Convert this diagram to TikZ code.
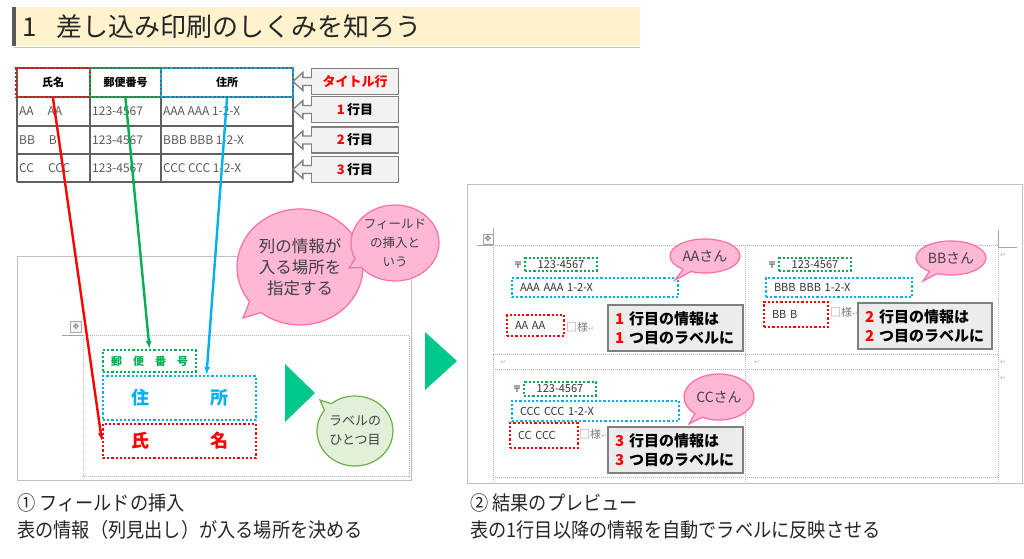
\documentclass[tikz,border=0pt]{standalone}
\usepackage{fontspec}
\setmainfont{Noto Sans CJK JP}
\newfontfamily\symfont{DejaVu Sans}
\usetikzlibrary{arrows.meta,shapes.callouts,positioning}
\definecolor{datagray}{RGB}{89,89,89}
\definecolor{taggray}{RGB}{127,127,127}
\definecolor{tagfill}{RGB}{242,242,242}
\definecolor{infofill}{RGB}{236,236,236}
\definecolor{pinkfill}{RGB}{255,183,214}
\definecolor{pinkline}{RGB}{255,110,160}
\definecolor{leaffill}{RGB}{226,240,217}
\definecolor{leafline}{RGB}{112,173,71}
\definecolor{txtgray}{RGB}{64,64,64}
\definecolor{fgreen}{RGB}{0,176,80}
\definecolor{fblue}{RGB}{0,176,240}
\definecolor{trigreen}{RGB}{0,200,140}
\definecolor{titlefill}{RGB}{255,242,204}
\definecolor{panelgray}{RGB}{191,191,191}
\newcommand{\retmark}{{\symfont\fontsize{7}{7}\selectfont\color{gray!60}↵}}
\newcommand{\redno}[1]{\textcolor{red}{#1}}
\begin{document}
\begin{tikzpicture}[x=1pt,y=-1pt,
    every node/.style={inner sep=0pt},
    cell/.style={anchor=west, text=datagray, font=\fontsize{12}{12}\selectfont},
    head/.style={minimum height=29pt, font=\bfseries\fontsize{11}{11}\selectfont},
    dots/.style={line width=2.2pt, dash pattern=on 2.2pt off 2pt},
    thin dots/.style={draw=gray!60, line width=0.6pt, dash pattern=on 1pt off 1pt},
    tagbox/.style={draw=taggray, fill=tagfill, line width=1.3pt, minimum width=87pt,
        minimum height=26pt, font=\bfseries\fontsize{13}{13}\selectfont},
    link/.style={line width=2.4pt, -{Latex[length=8pt,width=6pt]}},
    pinkcall/.style={ellipse callout, draw=pinkline, fill=pinkfill, line width=1.2pt,
        text=txtgray, align=center},
    greencall/.style={ellipse callout, draw=leafline, fill=leaffill, line width=1.2pt,
        text=txtgray, align=center},
    infobox/.style={draw=taggray, fill=infofill, line width=1.5pt, text width=121pt,
        inner xsep=7pt, minimum height=46pt, align=left,
        font=\bfseries\fontsize{15}{19}\selectfont},
    lbl/.style={inner xsep=8pt, align=left, font=\fontsize{11}{11}\selectfont, text=black!80},
    handle/.style={draw=gray!70, fill=gray!8, minimum size=11pt,
        font=\symfont\fontsize{8}{8}\selectfont, text=gray},
    caption/.style={anchor=west, font=\fontsize{20}{20}\selectfont, text=black!85}]
\useasboundingbox (0,0) rectangle (1024,558);

% title
\fill[titlefill] (12,7) rectangle (640,46);
\fill[gray!70!black] (12,7) rectangle (15.5,46);
\draw[gray!45, line width=1.5pt] (14,47.5) -- (640,47.5);
\node[anchor=west, font=\fontsize{26}{26}\selectfont, text=black!85] (title) at (22,27)
    {1\hspace{20pt}差し込み印刷のしくみを知ろう};

% table
\foreach \y in {68,97,126,154,182}
    \draw[gray!75!black, line width=1.1pt] (17,\y) -- (293,\y);
\foreach \x in {17,90,161,293}
    \draw[gray!75!black, line width=1.1pt] (\x,68) -- (\x,182);
\node[cell] (d11) at (19,111.5) {AA\hspace{14pt}AA};
\node[cell] (d12) at (92,111.5) {123-4567};
\node[cell] (d13) at (163,111.5) {AAA AAA 1-2-X};
\node[cell] (d21) at (19,140) {BB\hspace{14pt}B};
\node[cell] (d22) at (92,140) {123-4567};
\node[cell] (d23) at (163,140) {BBB BBB 1-2-X};
\node[cell] (d31) at (19,168) {CC\hspace{14pt}CCC};
\node[cell] (d32) at (92,168) {123-4567};
\node[cell] (d33) at (163,168) {CCC CCC 1-2-X};
\node[head, minimum width=74pt, draw=red, dots] (h1) at (53,82.5) {氏名};
\node[head, minimum width=71pt, draw=fgreen, dots] (h2) at (125.5,82.5) {郵便番号};
\node[head, minimum width=132pt, draw=fblue, dots] (h3) at (227,82.5) {住所};

% row tags
\foreach \n/\y/\t in {0/81.5/{\redno{タイトル行}}, 1/109.5/{\redno{1}\,行目},
                      2/140/{\redno{2}\,行目}, 3/169.5/{\redno{3}\,行目}}{
    \node[tagbox] (tag\n) at (355,\y) {\t};
    \filldraw[draw=taggray, fill=tagfill, line width=1.3pt]
        ([xshift=1pt]tag\n.west) ++(0,-4) -- ++(-9,0) -- ++(0,-5) -- ++(-10,9)
        -- ++(10,9) -- ++(0,-5) -- ++(9,0);
}

% left panel
\draw[panelgray, line width=1pt] (17,256) rectangle (411,480);
\draw[thin dots] (83,335) rectangle (409,476);
\draw[gray!70, line width=0.8pt] (62,335) -- (83,335);
\node[handle] (mv1) at (76,327) {✥};
\node[draw=fgreen, dots, minimum width=93pt, minimum height=22pt, text=fgreen,
    font=\bfseries\fontsize{11}{11}\selectfont] (fzip) at (149.5,361) {郵　便　番　号};
\node[draw=fblue, dots, minimum width=153pt, minimum height=44pt, text=fblue,
    font=\bfseries\fontsize{18}{18}\selectfont] (fadr) at (179.5,398) {住\hspace{61pt}所};
\node[draw=red, dots, minimum width=153pt, minimum height=34pt, text=red,
    font=\bfseries\fontsize{18}{18}\selectfont] (fname) at (179.5,441) {氏\hspace{61pt}名};
\fill[trigreen] (285,364) -- (285,422) -- (315,393) -- cycle;
\fill[trigreen] (425,332) -- (425,390) -- (457,361) -- cycle;
\node[pinkcall, minimum width=126pt, minimum height=116pt, callout absolute pointer={(243,318)},
    font=\fontsize{16.5}{21}\selectfont] (why) at (300,267) {列の情報が\\入る場所を\\指定する};
\node[pinkcall, minimum width=84pt, minimum height=76pt, callout absolute pointer={(349,268)},
    font=\fontsize{12.5}{19}\selectfont] (term) at (395,243) {フィールド\\の挿入と\\いう};
\node[greencall, minimum width=76pt, minimum height=70pt, callout absolute pointer={(320,400)},
    font=\fontsize{13}{19}\selectfont] (first) at (355,431) {ラベルの\\ひとつ目};

% links from the table
\draw[link, red] (h1.south) -- (fname.west);
\draw[link, fgreen] (h2.south) -- (fzip.north);
\draw[link, fblue] (h3.south) -- ([xshift=27pt]fadr.north);

% right panel
\draw[panelgray, line width=1pt] (467,184) rectangle (1022,483);
\draw[thin dots] (493,245) -- (998,245) (493,354) -- (998,354) (493,369) -- (998,369)
    (493,477) -- (998,477);
\draw[thin dots] (493,245) -- (493,483) (745,245) -- (745,483) (998,245) -- (998,483);
\draw[gray!70, line width=0.8pt] (477,245) -- (493,245) -- (493,228);
\draw[gray!70, line width=0.8pt] (998,230) -- (998,247) -- (1017,247);
\node[handle, minimum size=10pt] (mv2) at (488,239) {✥};
\node (r1) at (1003,255) {\retmark};
\node (r2) at (503,362) {\retmark};
\node (r3) at (757,362) {\retmark};
\node (r4) at (1003,362) {\retmark};
\node (r5) at (1003,378) {\retmark};

% label 1
\node[font=\bfseries\fontsize{9}{9}\selectfont, text=datagray] (post1) at (518,265.5) {〒};
\node[lbl, draw=fgreen, dots, text width=56pt, align=center, minimum height=13pt]
    (zip1) at (561,264.5) {123-4567};
\node[lbl, draw=fblue, dots, text width=150pt, minimum height=19pt] (adr1) at (595,287.5)
    {AAA AAA 1-2-X};
\node[lbl, draw=red, dots, text width=41pt, minimum height=21pt] (name1) at (535.5,325.5)
    {AA AA};
\node[anchor=west, text=gray, font=\fontsize{11}{11}\selectfont] (sama1) at (566,327)
    {□様\retmark};
\node[infobox] (info1) at (675.5,328) {\redno{1} 行目の情報は\\\redno{1} つ目のラベルに};
\node[pinkcall, minimum width=70pt, minimum height=34pt, callout absolute pointer={(675,280)},
    font=\fontsize{14}{14}\selectfont] (who1) at (705,256) {AAさん};

% label 2
\node[font=\bfseries\fontsize{9}{9}\selectfont, text=datagray] (post2) at (772,265.5) {〒};
\node[lbl, draw=fgreen, dots, text width=56pt, align=center, minimum height=13pt]
    (zip2) at (815,264.5) {123-4567};
\node[lbl, draw=fblue, dots, text width=130pt, minimum height=19pt] (adr2) at (839,287.5)
    {BBB BBB 1-2-X};
\node[lbl, draw=red, dots, text width=48pt, minimum height=25pt] (name2) at (796,314.5)
    {BB B};
\node[anchor=west, text=gray, font=\fontsize{11}{11}\selectfont] (sama2) at (830,312)
    {□様\retmark};
\node[infobox, text width=120pt] (info2) at (925,326) {\redno{2} 行目の情報は\\\redno{2} つ目のラベルに};
\node[pinkcall, minimum width=70pt, minimum height=34pt, callout absolute pointer={(923,281)},
    font=\fontsize{14}{14}\selectfont] (who2) at (951,258) {BBさん};

% label 3
\node[font=\bfseries\fontsize{9}{9}\selectfont, text=datagray] (post3) at (517,389.5) {〒};
\node[lbl, draw=fgreen, dots, text width=56pt, align=center, minimum height=14pt]
    (zip3) at (560,389) {123-4567};
\node[lbl, draw=fblue, dots, text width=151pt, minimum height=20pt] (adr3) at (595.5,411)
    {CCC CCC 1-2-X};
\node[lbl, draw=red, dots, text width=52pt, minimum height=25pt] (name3) at (544,435.5)
    {CC CCC};
\node[anchor=west, text=gray, font=\fontsize{11}{11}\selectfont] (sama3) at (579,434)
    {□様\retmark};
\node[infobox] (info3) at (675.5,450) {\redno{3} 行目の情報は\\\redno{3} つ目のラベルに};
\node[pinkcall, minimum width=70pt, minimum height=46pt, callout absolute pointer={(689,424)},
    font=\fontsize{14}{14}\selectfont] (who3) at (719,397) {CCさん};

% captions
\node[caption] (cap1) at (17,503) {\scalebox{0.91}[1]{① フィールドの挿入}};
\node[caption] (cap1b) at (17,530) {\scalebox{0.91}[1]{表の情報（列見出し）が入る場所を決める}};
\node[caption] (cap2) at (470,503) {\scalebox{0.91}[1]{② 結果のプレビュー}};
\node[caption] (cap2b) at (470,530) {\scalebox{0.91}[1]{表の1行目以降の情報を自動でラベルに反映させる}};
\end{tikzpicture}
\end{document}
